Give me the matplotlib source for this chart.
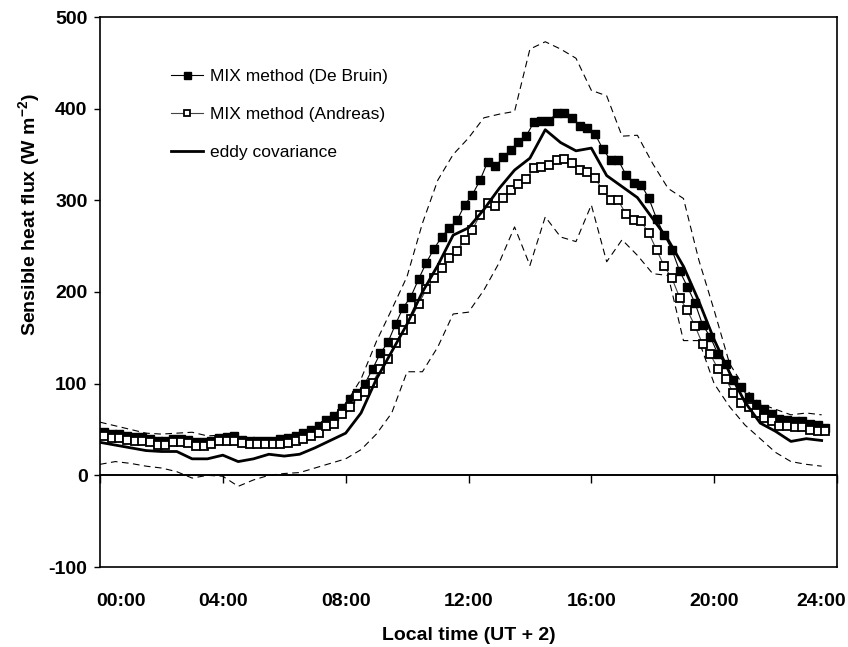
import numpy as np
import matplotlib
matplotlib.use("Agg")
import matplotlib.pyplot as plt
from matplotlib.transforms import ScaledTranslation

plt.rcParams['font.family'] = ['Liberation Sans', 'DejaVu Sans']
plt.rcParams['mathtext.fontset'] = 'custom'
plt.rcParams['mathtext.rm'] = 'Liberation Sans:bold'
plt.rcParams['mathtext.bf'] = 'Liberation Sans:bold'
plt.rcParams['axes.unicode_minus'] = False

# ---- data ----
mix_times = 0.125 + 0.25 * np.arange(95)          # 15-min values (h)
half_times = 0.5 * np.arange(48)                  # 30-min values (h)

mix_debruin = [47, 45, 45, 43, 42, 42, 40, 37, 37, 40, 40, 39, 36, 36, 38, 41, 42, 43, 39, 38, 38, 38, 38,
               40, 41, 43, 46, 50, 54, 60, 65, 74, 83,
               90, 100, 116, 133, 145, 165, 183, 195, 214, 232,
               247, 260, 270, 278, 295, 306, 322, 342, 337, 347,
               355, 364, 370, 385, 386, 387, 395, 395, 390, 381,
               379, 372, 356, 344, 344, 328, 319, 317, 302, 280,
               262, 246, 223, 206, 188, 164, 151, 132, 121, 104,
               96, 85, 78, 72, 67, 61, 60, 59, 59, 56,
               55, 52]

mix_andreas = [43, 41, 41, 39, 38, 37, 36, 33, 33, 36, 36, 35, 32, 32, 34, 37, 38, 38, 35, 34, 34, 34, 34,
               34, 35, 37, 40, 43, 46, 54, 56, 67, 75,
               87, 91, 101, 116, 127, 144, 159, 171, 187, 203,
               215, 226, 237, 245, 257, 268, 284, 297, 294, 303,
               311, 318, 323, 335, 336, 339, 344, 345, 341, 333,
               331, 324, 311, 300, 300, 285, 279, 277, 264, 246,
               228, 215, 194, 180, 163, 143, 132, 116, 105, 90,
               79, 75, 68, 63, 59, 54, 54, 53, 53, 49,
               48, 48]

eddy = [36, 33, 30, 27, 26, 26, 18, 18, 22, 15,
        18, 23, 21, 23, 30, 38, 46, 68, 105, 135,
        165, 200, 229, 262, 270, 290, 313, 333, 346, 377,
        363, 354, 357, 327, 315, 303, 280, 257, 228, 190,
        148, 112, 80, 57, 48, 37, 40, 38]

eddy_upper = [58, 54, 50, 46, 45, 46, 47, 43, 44, 42,
              40, 40, 41, 44, 55, 62, 78, 105, 146, 181,
              217, 275, 322, 350, 368, 390, 394, 397, 465, 473,
              465, 455, 420, 414, 370, 371, 340, 313, 302, 235,
              180, 122, 95, 78, 72, 66, 68, 66]

eddy_lower = [12, 15, 13, 10, 8, 4, -3, 0, -1, -12,
              -5, 0, 2, 3, 8, 13, 18, 28, 45, 68,
              113, 113, 140, 176, 178, 202, 232, 271, 229, 282,
              260, 255, 295, 233, 257, 240, 220, 218, 147, 147,
              100, 75, 55, 40, 25, 15, 12, 10]

xticks = [0, 4, 8, 12, 16, 20, 24]
xticklabels = ['00:00', '04:00', '08:00', '12:00', '16:00', '20:00', '24:00']
yticks = [-100, 0, 100, 200, 300, 400, 500]

# ---- figure ----
fig = plt.figure(figsize=(8.48, 6.47), dpi=100)
ax = fig.add_axes([100 / 848, 80 / 647, 737 / 848, 550 / 647])

dash = (0, (6, 4))
ax.plot(half_times, eddy_upper, color='black', lw=0.8, ls=dash, zorder=2)
ax.plot(half_times, eddy_lower, color='black', lw=0.8, ls=dash, zorder=2)
ax.plot(mix_times, mix_debruin, color='black', lw=0.8, marker='s', ms=6.3,
        mfc='black', mec='black', label='MIX method (De Bruin)', zorder=3)
ax.plot(mix_times, mix_andreas, color='#444444', lw=0.8, marker='s', ms=5.6,
        mfc='white', mec='black', mew=1.3, label='MIX method (Andreas)', zorder=4)
ax.plot(half_times, eddy, color='black', lw=2.0, label='eddy covariance', zorder=5)

ax.axhline(0, color='black', lw=1.2, zorder=1)

ax.set_xlim(0, 24)
ax.set_ylim(-100, 500)
ax.set_xticks(xticks)
ax.set_xticklabels(xticklabels)
ax.set_yticks(yticks)
for lab in ax.get_xticklabels() + ax.get_yticklabels():
    lab.set_fontweight('bold')
    lab.set_fontsize(14)
ax.tick_params(axis='x', length=0, pad=19)
ax.tick_params(axis='y', length=4, width=1, direction='out', pad=5)

# end labels pulled inward, as in the reference
xl = ax.get_xticklabels()
xl[0].set_transform(xl[0].get_transform() + ScaledTranslation(21 / 100, 0, fig.dpi_scale_trans))
xl[-1].set_transform(xl[-1].get_transform() + ScaledTranslation(-16 / 100, 0, fig.dpi_scale_trans))

# tick marks on the zero line
sec = ax.secondary_xaxis(1 / 6)
sec.set_xticks(xticks)
sec.tick_params(axis='x', length=6, width=1, direction='out', labelbottom=False)
sec.spines['bottom'].set_linewidth(1.2)

for s in ax.spines.values():
    s.set_linewidth(1.2)

ax.set_xlabel('Local time (UT + 2)', fontsize=14, fontweight='bold', labelpad=12)
ax.set_ylabel(r'Sensible heat flux (W m$^{-2}$)', fontsize=14, fontweight='bold')
ax.yaxis.set_label_coords(-0.078, 0.64)

leg = ax.legend(loc='upper left', bbox_to_anchor=(0.085, 0.921), frameon=False,
                fontsize=12.5, handlelength=1.8, handletextpad=0.4,
                labelspacing=1.3, borderpad=0, markerscale=0.8)

fig.savefig('out.png', dpi=100)
